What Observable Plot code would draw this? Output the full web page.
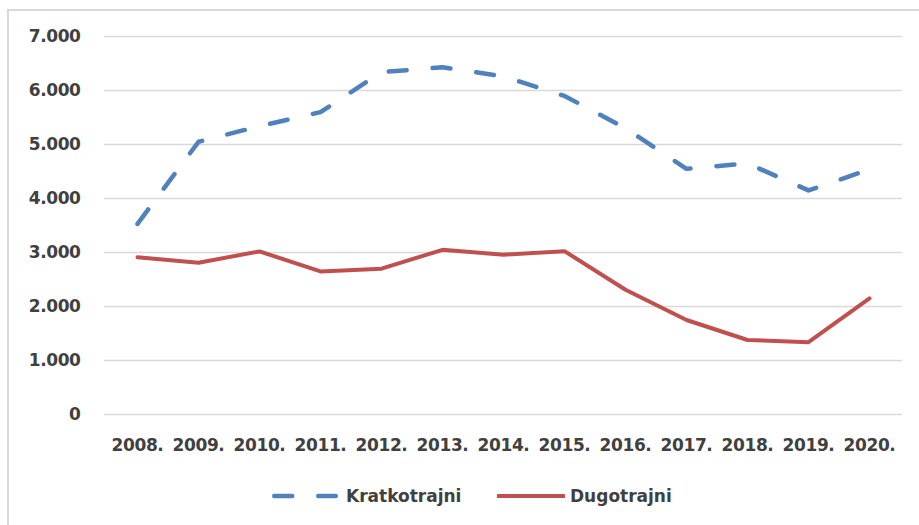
<!DOCTYPE html>
<html>
<head>
<meta charset="utf-8">
<script src="https://cdn.jsdelivr.net/npm/d3@7"></script>
<script src="https://cdn.jsdelivr.net/npm/@observablehq/plot@0.6"></script>
<style>
  html, body { margin: 0; padding: 0; background: #fff; overflow: hidden; }
  #wrap { position: relative; width: 919px; height: 525px; font-family: "DejaVu Sans", sans-serif; }
  #frame { position: absolute; left: 7px; top: 9px; width: 1000px; height: 1000px; border: 2px solid #d9d9d9; box-sizing: border-box; }
  #chart { position: absolute; left: 0; top: 0; }
  #chart svg text { font-size: 17px; font-weight: bold; letter-spacing: -0.4px; }
  #legend { position: absolute; left: 0; top: 482px; width: 919px; height: 28px; }
  .item { position: absolute; top: 0; height: 28px; display: flex; align-items: center; font-weight: bold; font-size: 17px; color: #404040; }
</style>
</head>
<body>
<div id="wrap">
  <div id="frame"></div>
  <div id="chart"></div>
  <div id="legend"></div>
</div>
<script>
const years = ["2008.", "2009.", "2010.", "2011.", "2012.", "2013.", "2014.", "2015.", "2016.", "2017.", "2018.", "2019.", "2020."];
const kratkotrajni = [3530, 5050, 5340, 5600, 6340, 6430, 6260, 5900, 5300, 4550, 4650, 4150, 4540];
const dugotrajni = [2910, 2810, 3020, 2650, 2700, 3050, 2960, 3025, 2310, 1750, 1380, 1340, 2150];
const yTicks = [0, 1000, 2000, 3000, 4000, 5000, 6000, 7000];
const seriesNames = ["Kratkotrajni", "Dugotrajni"];
const colors = ["#4F81BD", "#C0504D"];

const rowsK = years.map((y, i) => ({year: y, value: kratkotrajni[i]}));
const rowsD = years.map((y, i) => ({year: y, value: dugotrajni[i]}));

const fmt = v => v === 0 ? "0" : d3.format(",")(v).replace(/,/g, ".");

const chart = Plot.plot({
  width: 919,
  height: 460,
  marginLeft: 104,
  marginRight: 17,
  marginTop: 36,
  marginBottom: 46,
  style: {fontFamily: "DejaVu Sans, sans-serif", fontSize: "17px", fontWeight: "bold", color: "#404040", background: "transparent"},
  x: {type: "point", domain: years, padding: 0.5, label: null, tickSize: 0, tickPadding: 24},
  y: {domain: [0, 7000], ticks: yTicks, tickFormat: fmt, label: null, tickSize: 0, tickPadding: 24},
  marks: [
    Plot.ruleY(yTicks, {stroke: "#d9d9d9", strokeWidth: 1.3}),
    Plot.axisX({tickSize: 0, tickPadding: 24, fill: "#404040"}),
    Plot.axisY({ticks: yTicks, tickFormat: fmt, tickSize: 0, tickPadding: 24, fill: "#404040"}),
    Plot.line(rowsD, {x: "year", y: "value", stroke: colors[1], strokeWidth: 4, strokeLinejoin: "round", strokeLinecap: "round"}),
    Plot.line(rowsK, {x: "year", y: "value", stroke: colors[0], strokeWidth: 4.5, strokeDasharray: "18,26", strokeLinecap: "round", strokeLinejoin: "round"})
  ]
});
document.getElementById("chart").appendChild(chart);

// Legend
const legend = document.getElementById("legend");
const items = [
  {name: seriesNames[0], color: colors[0], dash: "18,26", left: 272, sw: 66, width: 4.5},
  {name: seriesNames[1], color: colors[1], dash: null, left: 497, sw: 68, width: 4}
];
items.forEach(it => {
  const div = document.createElement("div");
  div.className = "item";
  div.style.left = it.left + "px";
  const ns = "http://www.w3.org/2000/svg";
  const svg = document.createElementNS(ns, "svg");
  svg.setAttribute("width", it.sw);
  svg.setAttribute("height", 10);
  const line = document.createElementNS(ns, "line");
  const pad = it.dash ? 2.25 : 1;
  line.setAttribute("x1", pad);
  line.setAttribute("x2", it.sw - pad);
  line.setAttribute("y1", 5);
  line.setAttribute("y2", 5);
  line.setAttribute("stroke", it.color);
  line.setAttribute("stroke-width", it.width);
  line.setAttribute("stroke-linecap", "round");
  if (it.dash) line.setAttribute("stroke-dasharray", it.dash);
  svg.appendChild(line);
  div.appendChild(svg);
  const span = document.createElement("span");
  span.textContent = it.name;
  span.style.marginLeft = it.dash ? "8px" : "5px";
  div.appendChild(span);
  legend.appendChild(div);
});
</script>
</body>
</html>
